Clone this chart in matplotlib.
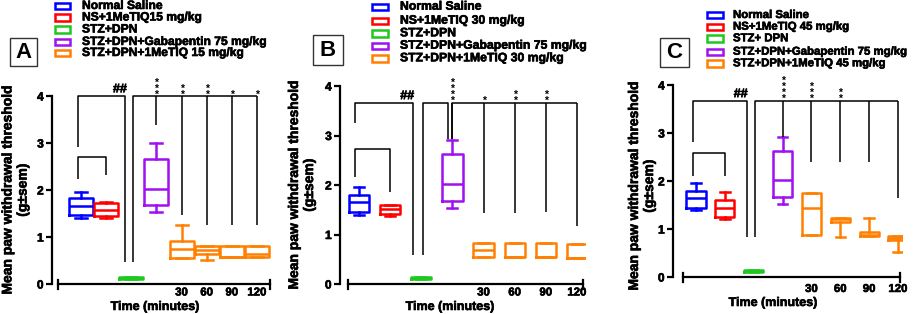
import matplotlib
matplotlib.use("Agg")
import matplotlib.pyplot as plt
from matplotlib import font_manager as fm
from matplotlib import patheffects as pe
from matplotlib.transforms import Affine2D
from matplotlib.patches import Rectangle

# ---------------- data ----------------
time_labels = ["30", "60", "90", "120"]
colors = ["#0000ff", "#ff0000", "#1ec81e", "#a010f0", "#ff8000", "#ff8000", "#ff8000", "#ff8000"]

A_legend = ["Normal Saline", "NS+1MeTIQ15 mg/kg", "STZ+DPN",
            "STZ+DPN+Gabapentin 75 mg/kg", "STZ+DPN+1MeTIQ 15 mg/kg"]
B_legend = ["Normal Saline", "NS+1MeTIQ 30 mg/kg", "STZ+DPN",
            "STZ+DPN+Gabapentin 75 mg/kg", "STZ+DPN+1MeTIQ 30 mg/kg"]
C_legend = ["Normal Saline", "NS+1MeTIQ 45 mg/kg", "STZ+ DPN",
            "STZ+DPN+Gabapentin 75 mg/kg", "STZ+DPN+1MeTIQ 45 mg/kg"]

A_low = [1.40, 1.40, 0.11, 1.53, 0.56, 0.52, 0.57, 0.57]
A_q1 = [1.47, 1.45, 0.11, 1.68, 0.56, 0.63, 0.57, 0.57]
A_med = [1.65, 1.57, 0.13, 2.02, 0.75, 0.72, 0.57, 0.63]
A_q3 = [1.82, 1.73, 0.15, 2.65, 0.92, 0.80, 0.80, 0.80]
A_high = [1.95, 1.75, 0.15, 3.00, 1.25, 0.80, 0.80, 0.80]

B_low = [1.40, 1.37, 0.11, 1.53, 0.55, 0.55, 0.55, 0.53]
B_q1 = [1.45, 1.42, 0.11, 1.67, 0.55, 0.55, 0.55, 0.53]
B_med = [1.65, 1.52, 0.13, 2.03, 0.68, 0.55, 0.55, 0.53]
B_q3 = [1.80, 1.60, 0.15, 2.63, 0.82, 0.82, 0.82, 0.80]
B_high = [1.95, 1.60, 0.15, 2.90, 0.82, 0.82, 0.82, 0.80]

C_low = [1.40, 1.20, 0.11, 1.53, 0.87, 0.83, 0.85, 0.52]
C_q1 = [1.43, 1.25, 0.11, 1.67, 0.87, 1.15, 0.85, 0.78]
C_med = [1.65, 1.43, 0.13, 2.03, 1.43, 1.20, 0.88, 0.82]
C_q3 = [1.80, 1.60, 0.15, 2.63, 1.75, 1.23, 0.93, 0.85]
C_high = [1.95, 1.78, 0.15, 2.92, 1.75, 1.23, 1.23, 0.85]

# significance annotations (groups 3..7 vs STZ+DPN)
A_stars = ["***", "**", "**", "*", "*"]
B_stars = ["****", "*", "**", "**", ""]
C_stars = ["****", "***", "**", "", ""]
A_drop_ends = [3.38, 1.47, 1.26, 1.26, 1.26]
B_drop_ends = [2.92, 1.43, 1.43, 1.45, 1.17]
C_drop_ends = [2.92, 2.40, 2.40, 2.40, 1.65]
A_bracket = {"top": 4.00, "hash_left": 2.91, "hash_right": 0.47, "small": 2.70, "small_l": 2.23, "small_r": 2.32}
B_bracket = {"top": 3.66, "hash_left": 3.25, "hash_right": 0.59, "small": 2.73, "small_l": 2.16, "small_r": 1.86}
C_bracket = {"top": 3.67, "hash_left": 2.81, "hash_right": 0.83, "small": 2.58, "small_l": 2.10, "small_r": 2.10}


# ---------------- bold font lookup ----------------
def find_bold():
    prefs = ["Liberation Sans", "Arial", "Roboto", "Open Sans", "Lato", "Inter", "Noto Sans", "DejaVu Sans"]
    wmap = {"bold": 700, "heavy": 800, "black": 900, "semibold": 600, "demibold": 600,
            "normal": 400, "regular": 400, "medium": 500, "light": 300}
    for name in prefs:
        for f in fm.fontManager.ttflist:
            if f.name != name or f.style != "normal":
                continue
            w = f.weight
            if isinstance(w, str):
                w = wmap.get(w.lower(), 400)
            if 650 <= w <= 750:
                return f.fname
    return None


BOLD_PATH = find_bold()
HEAVY = [pe.withStroke(linewidth=0.45, foreground="black")]


def fp(size):
    if BOLD_PATH:
        return fm.FontProperties(fname=BOLD_PATH, size=size)
    return fm.FontProperties(family="DejaVu Sans", weight="bold", size=size)


# ---------------- figure ----------------
W, H = 913, 314
fig = plt.figure(figsize=(W / 100, H / 100), dpi=100)
pxT = Affine2D().scale(1 / W, -1 / H).translate(0, 1) + fig.transFigure


def draw_panel(letter, legend, lows, q1s, meds, q3s, highs, stars, drop_ends, br,
               c0, dx, y0, k, yaxis, xl_px, xr_px, width, split,
               leg_hx, leg_tx, leg_rows, leg_fs, lbox, ylab_xy, xlab_xy, xt_pad):
    right = xr_px + 3
    top = y0 - 4 * k
    ax = fig.add_axes([yaxis / W, 1 - y0 / H, (right - yaxis) / W, (y0 - top) / H])
    ax.set_xlim((yaxis - c0) / dx, (right - c0) / dx)
    ax.set_ylim(0, 4)
    for s in ["top", "right"]:
        ax.spines[s].set_visible(False)
    ax.spines["left"].set_linewidth(1.6)
    ax.spines["left"].set_bounds(0, 4)
    ax.spines["bottom"].set_linewidth(1.6)
    xl, xr = (xl_px - c0) / dx, (xr_px - c0) / dx
    ax.spines["bottom"].set_bounds(xl, xr)
    h = 4.5 / k
    for xe in (xl, xr):
        ax.plot([xe, xe], [-h, h], color="black", lw=1.6, clip_on=False)

    ax.set_yticks([0, 1, 2, 3, 4])
    ax.set_yticklabels(["0", "1", "2", "3", "4"])
    ax.tick_params(axis="y", length=4.5, width=1.6, pad=1.5)
    ax.set_xticks([4, 5, 6, 7])
    ax.set_xticklabels(time_labels)
    ax.tick_params(axis="x", length=0, pad=xt_pad)
    for t in ax.get_yticklabels():
        t.set_fontproperties(fp(8.6))
        t.set_path_effects(HEAVY)
    for t in ax.get_xticklabels():
        t.set_fontproperties(fp(8.2))
        t.set_path_effects(HEAVY)

    n = len(meds)
    pos = list(range(n))
    stats = [dict(med=meds[i], q1=q1s[i], q3=q3s[i], whislo=lows[i], whishi=highs[i], fliers=[])
             for i in range(n)]
    art = ax.bxp(stats, positions=pos, widths=width, showfliers=False, patch_artist=False,
                 manage_ticks=False)
    for i in range(n):
        c = colors[i]
        art["boxes"][i].set(color=c, linewidth=1.8)
        art["medians"][i].set(color=c, linewidth=1.8)
        for j in (2 * i, 2 * i + 1):
            art["whiskers"][j].set(color=c, linewidth=1.8)
            art["caps"][j].set(color=c, linewidth=1.8)

    lk = dict(color="black", lw=1.1, clip_on=False, solid_capstyle="butt")
    T = br["top"]
    # small bracket Normal saline vs NS+1MeTIQ
    ax.plot([-0.12, -0.12, 1.0, 1.0], [br["small_l"], br["small"], br["small"], br["small_r"]], **lk)
    # ## bracket: Normal saline vs STZ+DPN
    ax.plot([-0.12, -0.12, 1.75, 1.75], [br["hash_left"], T, T, br["hash_right"]], **lk)
    ax.annotate("##", xy=(1.55, T), xytext=(0, 0.5), textcoords="offset points",
                ha="center", va="bottom", fontproperties=fp(9), annotation_clip=False,
                path_effects=HEAVY)
    # bracket STZ+DPN vs treatments
    if split:
        ax.plot([2.05, 2.05, 2.86, 2.86], [br["hash_right"], T, T, drop_ends[0]], **lk)
        ax.plot([3.0, 3.0, 7.0], [drop_ends[0], T, T], **lk)
    else:
        ax.plot([2.05, 2.05, 7.0], [br["hash_right"], T, T], **lk)
    for g in range(3, 8):
        ax.plot([g, g], [T, drop_ends[g - 3]], **lk)
        s = stars[g - 3]
        if s:
            ax.annotate("\n".join(s), xy=(g, T), xytext=(0, -2.5), textcoords="offset points",
                        ha="center", va="bottom", fontproperties=fp(7.5),
                        linespacing=0.5, annotation_clip=False)

    # labels
    ax.set_ylabel("Mean paw withdrawal threshold\n(g\u00b1sem)", fontproperties=fp(10),
                  ha="center", va="center", linespacing=1.1)
    ax.yaxis.label.set_path_effects(HEAVY)
    ax.yaxis.set_label_coords(ylab_xy[0], ylab_xy[1], transform=pxT)
    ax.set_xlabel("Time (minutes)", fontproperties=fp(9), ha="center", va="center")
    ax.xaxis.label.set_path_effects(HEAVY)
    ax.xaxis.set_label_coords(xlab_xy[0], xlab_xy[1], transform=pxT)

    # legend (open coloured boxes)
    leg_cols = [colors[0], colors[1], colors[2], colors[3], colors[4]]
    for lab, c, ry in zip(legend, leg_cols, leg_rows):
        fig.add_artist(Rectangle((leg_hx[0], ry - 3.2), leg_hx[1] - leg_hx[0], 6.4,
                                 transform=pxT, fill=False, edgecolor=c, lw=1.8))
        fig.text(leg_tx, ry, lab, transform=pxT, ha="left", va="center",
                 fontproperties=fp(leg_fs), path_effects=HEAVY)

    # panel letter
    x0, y0b, x1, y1b = lbox
    fig.add_artist(Rectangle((x0, y0b), x1 - x0, y1b - y0b, transform=pxT, fill=False,
                             edgecolor="#333333", lw=1.0))
    fig.text((x0 + x1) / 2, (y0b + y1b) / 2 + 0.5, letter, transform=pxT, ha="center",
             va="center", fontproperties=fp(16))
    return ax


draw_panel("A", A_legend, A_low, A_q1, A_med, A_q3, A_high, A_stars, A_drop_ends, A_bracket,
           c0=81, dx=25.14, y0=284, k=47, yaxis=52, xl_px=58, xr_px=270, width=0.95, split=False,
           leg_hx=(55, 70), leg_tx=82, leg_rows=[6, 17.5, 29.5, 42, 53], leg_fs=8.7,
           lbox=(10, 38, 37, 66), ylab_xy=(15, 190), xlab_xy=(155, 307), xt_pad=2.5)
draw_panel("B", B_legend, B_low, B_q1, B_med, B_q3, B_high, B_stars, B_drop_ends, B_bracket,
           c0=359, dx=31.14, y0=284, k=49.5, yaxis=340, xl_px=348, xr_px=583, width=0.65, split=True,
           leg_hx=(372, 388), leg_tx=400, leg_rows=[6.7, 20.7, 33.3, 45.7, 58.3], leg_fs=8.8,
           lbox=(313, 35, 343, 65), ylab_xy=(301.5, 185), xlab_xy=(450, 307), xt_pad=2.5)
draw_panel("C", C_legend, C_low, C_q1, C_med, C_q3, C_high, C_stars, C_drop_ends, C_bracket,
           c0=696, dx=28.86, y0=277, k=48, yaxis=673, xl_px=683, xr_px=900, width=0.66, split=False,
           leg_hx=(707, 723), leg_tx=733, leg_rows=[15, 26.7, 38.3, 51.7, 63.3], leg_fs=8.2,
           lbox=(660, 38, 689, 67), ylab_xy=(641.5, 186), xlab_xy=(773, 303), xt_pad=5)

fig.savefig("out.png", dpi=100)
